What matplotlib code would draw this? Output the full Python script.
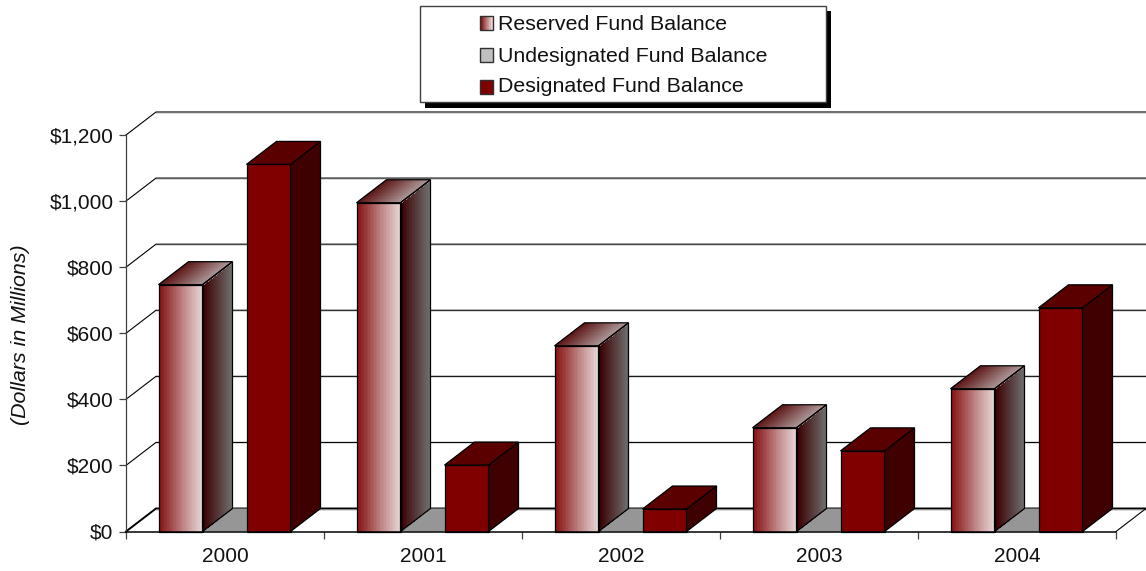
import numpy as np
import matplotlib
matplotlib.use('Agg')
import matplotlib.pyplot as plt
from matplotlib.colors import LinearSegmentedColormap
from matplotlib.patches import Rectangle, Polygon

plt.rcParams['font.family'] = ['Liberation Sans', 'DejaVu Sans']

years = ['2000', '2001', '2002', '2003', '2004']
reserved = [747, 995, 562, 314, 432]
undesignated = [0, 0, 0, 0, 0]
designated = [1111, 201, 68, 244, 677]
yTicks = [0, 200, 400, 600, 800, 1000, 1200]
yLabels = ['$0', '$200', '$400', '$600', '$800', '$1,000', '$1,200']
legendNames = ['Reserved Fund Balance', 'Undesignated Fund Balance', 'Designated Fund Balance']

W, H = 1146, 571
fig = plt.figure(figsize=(W / 100, H / 100), dpi=100, facecolor='white')
ax = fig.add_axes([126 / W, (H - 531.5) / H, 990 / W, 396.5 / H])
ax.set_facecolor('none')

# depth of the fake 3d box, in data units
depthX = 30 / 198
depthY = 23 * 1200 / 396.5
barW = 44 / 198

frontMap = LinearSegmentedColormap.from_list('front', ['#841010', '#b87878', '#e8d6d6'])
sideMap = LinearSegmentedColormap.from_list('side', ['#3a0000', '#707070'])
topMap = LinearSegmentedColormap.from_list('top', ['#5c1414', '#aa9494'])


# gradient sheared quad, colour runs left to right along t
def gradMesh(X, Y, cmap, z):
    n = X.shape[1] - 1
    C = np.linspace(0, 1, n)[None, :]
    ax.pcolormesh(X, Y, C, cmap=cmap, vmin=0, vmax=1, shading='flat', zorder=z,
                  antialiased=False, clip_on=False, rasterized=True)


def outline(pts, z):
    ax.add_patch(Polygon(pts, closed=True, fill=False, ec='black', lw=0.9, zorder=z, clip_on=False))


def fillPoly(pts, color, z):
    ax.add_patch(Polygon(pts, closed=True, fc=color, ec='black', lw=0.9, zorder=z, clip_on=False))


def gradBar(x, v, z):
    t = np.linspace(0, 1, 31)
    # front
    fx = x + barW * t
    gradMesh(np.array([fx, fx]), np.array([0 * t, v + 0 * t]), frontMap, z)
    outline([(x, 0), (x + barW, 0), (x + barW, v), (x, v)], z + 0.1)
    # side, colour runs with depth
    sx = x + barW + depthX * t
    gradMesh(np.array([sx, sx]), np.array([depthY * t, v + depthY * t]), sideMap, z)
    outline([(x + barW, 0), (x + barW + depthX, depthY), (x + barW + depthX, v + depthY), (x + barW, v)], z + 0.1)
    # top
    gradMesh(np.array([x + barW * t, x + depthX + barW * t]), np.array([v + 0 * t, v + depthY + 0 * t]), topMap, z)
    outline([(x, v), (x + barW, v), (x + barW + depthX, v + depthY), (x + depthX, v + depthY)], z + 0.1)


def solidBar(x, v, front, side, top, z):
    fillPoly([(x, 0), (x + barW, 0), (x + barW, v), (x, v)], front, z)
    fillPoly([(x + barW, 0), (x + barW + depthX, depthY), (x + barW + depthX, v + depthY), (x + barW, v)], side, z)
    fillPoly([(x, v), (x + barW, v), (x + barW + depthX, v + depthY), (x + depthX, v + depthY)], top, z)


# back wall grid lines
for t in yTicks:
    lw = 1.4 if t == 0 else 0.8
    ax.plot([0, depthX, 5 + depthX], [t, t + depthY, t + depthY], color='black', lw=lw, zorder=1,
            clip_on=False, solid_joinstyle='miter')
    ax.plot([depthX, 5 + depthX], [t + depthY - 3.2, t + depthY - 3.2], color='#d8d8d8', lw=0.7, zorder=0.9, clip_on=False)
ax.plot([5, 5 + depthX], [0, depthY], color='black', lw=0.8, zorder=1, clip_on=False)

for i in range(len(years)):
    gradBar(i + 32.5 / 198, reserved[i], 3 + i * 3)
    # undesignated is 0 so only the flat top shows
    ux = i + 76.5 / 198
    ax.add_patch(Polygon([(ux, undesignated[i]), (ux + barW, undesignated[i]),
                          (ux + barW + depthX, undesignated[i] + depthY), (ux + depthX, undesignated[i] + depthY)],
                         closed=True, fc='#969696', ec='none', zorder=2 + i * 3, clip_on=False))
    solidBar(i + 120.5 / 198, designated[i], '#800000', '#3e0000', '#5a0000', 4 + i * 3)

ax.set_xlim(0, 5)
ax.set_ylim(0, 1200)
ax.spines['top'].set_visible(False)
ax.spines['right'].set_visible(False)
ax.spines['left'].set_linewidth(0.9)
ax.spines['left'].set_color('#404040')
ax.spines['bottom'].set_linewidth(1.1)
ax.spines['bottom'].set_zorder(30)

ax.set_yticks(yTicks)
ax.set_yticklabels(yLabels, fontsize=15, color='#111111')
ax.tick_params(axis='y', length=5, width=0.9, pad=4, color='#404040')
ax.set_xticks(range(6))
ax.set_xticklabels([])
ax.set_xticks(np.arange(5) + 0.5, minor=True)
ax.set_xticklabels(years, minor=True, fontsize=15, color='#111111')
ax.tick_params(axis='x', which='major', length=5, width=0.9, color='#404040')
ax.tick_params(axis='x', which='minor', length=0, pad=11)
fig.text(21 / W, 1 - 334.5 / H, '(Dollars in Millions)', rotation=90, style='italic', fontsize=15.4,
         ha='center', va='center', color='#111111')

# legend box, drawn in pixel coords on its own axes
lg = fig.add_axes([0, 0, 1, 1], zorder=50)
lg.axis('off')
lg.patch.set_alpha(0)
lg.add_patch(Rectangle((425, 11), 406, 97, fc='black', ec='none'))
lg.add_patch(Rectangle((419.5, 5.5), 406, 96.5, fc='white', ec='#404040', lw=1))
swatchY = [16, 48, 80]
textY = [30, 61.5, 92.5]
lg.imshow(np.linspace(0, 1, 6)[None, :], cmap=frontMap, extent=(479.5, 492.5, 30, 16), aspect='auto', zorder=3)
lg.set_xlim(0, W)
lg.set_ylim(H, 0)
lg.add_patch(Rectangle((479.5, swatchY[0]), 13, 14, fill=False, ec='#303030', lw=1, zorder=4))
lg.add_patch(Rectangle((479.5, swatchY[1]), 13, 14, fc='#c0c0c0', ec='#303030', lw=1, zorder=4))
lg.add_patch(Rectangle((479.5, swatchY[2]), 13, 14, fc='#800000', ec='#303030', lw=1, zorder=4))
for name, y in zip(legendNames, textY):
    lg.text(498, y, name, fontsize=15.4, va='baseline', ha='left', color='#111111')

fig.savefig('out.png', dpi=100, facecolor='white')
